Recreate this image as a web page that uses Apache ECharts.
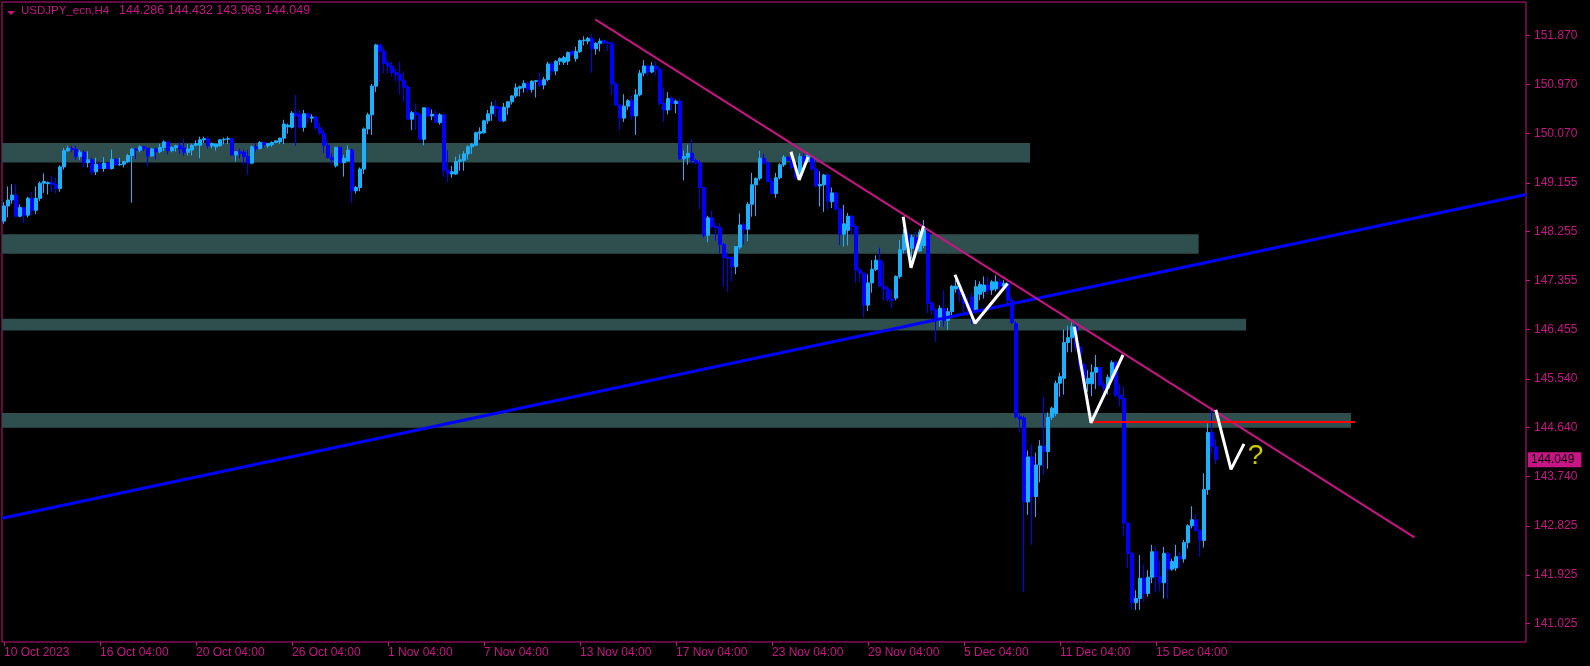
<!DOCTYPE html>
<html><head><meta charset="utf-8">
<script src="https://cdn.jsdelivr.net/npm/echarts@6/dist/echarts.min.js"></script>
<style>html,body{margin:0;padding:0;background:#000}#c{width:1590px;height:666px}</style>
</head><body><div id="c"></div>
<script>
// ---- data ----
const SYMBOL = 'USDJPY_ecn,H4';
const TICK_LABELS = ['10 Oct 2023','16 Oct 04:00','20 Oct 04:00','26 Oct 04:00','1 Nov 04:00','7 Nov 04:00','13 Nov 04:00','17 Nov 04:00','23 Nov 04:00','29 Nov 04:00','5 Dec 04:00','11 Dec 04:00','15 Dec 04:00'];
const Y_TICKS = [151.870,150.970,150.070,149.155,148.255,147.355,146.455,145.540,144.640,143.740,142.825,141.925,141.025];
const OPEN = [
148.45,148.73,148.84,148.93,148.54,148.70,148.56,148.87,148.65,148.87,
149.15,149.14,149.16,149.13,149.05,149.45,149.75,149.79,149.77,149.64,
149.72,149.53,149.58,149.36,149.50,149.42,149.52,149.42,149.59,149.49,
149.50,149.55,149.66,149.78,149.76,149.82,149.79,149.65,149.78,149.73,
149.81,149.91,149.75,149.81,149.84,149.80,149.72,149.76,149.85,149.85,
149.95,149.97,149.84,149.82,149.84,149.95,149.96,149.97,149.67,149.73,
149.72,149.64,149.52,149.82,149.79,149.90,149.84,149.86,149.90,149.91,
149.98,150.19,150.18,150.44,150.41,150.18,150.43,150.35,150.37,150.17,
150.07,149.85,149.62,149.47,149.81,149.53,149.56,149.76,149.01,149.07,
149.41,150.15,150.41,150.94,151.70,151.58,151.36,151.31,151.19,151.15,
151.05,150.92,150.33,150.45,150.41,149.96,150.54,150.39,150.42,150.27,
150.41,149.39,149.32,149.32,149.55,149.57,149.69,149.82,149.85,150.07,
150.08,150.30,150.43,150.57,150.55,150.30,150.55,150.65,150.76,150.90,
150.91,150.99,150.88,151.03,151.04,150.96,151.06,151.35,151.22,151.40,
151.38,151.40,151.58,151.45,151.58,151.78,151.77,151.82,151.63,151.73,
151.78,151.74,151.73,150.98,150.59,150.35,150.57,150.67,150.39,150.78,
151.18,151.31,151.20,151.31,151.25,150.62,150.50,150.71,150.62,150.66,
149.60,149.63,149.70,149.57,149.52,149.07,148.19,148.51,148.35,148.33,
148.02,147.78,147.78,147.61,147.97,148.38,148.30,148.76,149.12,149.24,
149.61,149.52,149.18,148.96,149.25,149.49,149.63,149.57,149.44,149.30,
149.64,149.55,149.60,149.41,149.10,149.12,149.30,148.81,148.97,148.67,
148.21,148.28,148.54,148.35,147.55,147.49,146.90,147.31,147.56,147.73,
147.25,147.20,147.01,147.03,147.43,147.92,148.20,147.95,148.15,147.90,
148.00,148.22,146.93,146.81,146.62,146.84,146.62,146.78,147.20,147.25,
147.10,146.93,147.05,146.81,147.10,147.15,147.27,147.18,147.20,147.33,
147.25,147.30,146.99,146.56,144.84,144.82,143.27,144.10,143.37,143.95,
144.30,144.20,144.83,144.90,145.46,145.55,146.21,146.30,146.50,146.13,
145.80,145.45,145.45,145.66,145.75,145.43,145.37,145.57,145.84,145.24,
145.18,142.88,142.32,141.41,141.49,141.86,141.58,141.88,142.35,141.89,
141.78,142.32,142.03,142.05,142.26,142.22,142.52,142.83,142.94,142.74,
142.56,143.50,144.55,144.286];
const CLOSE = [
148.73,148.84,148.93,148.54,148.70,148.56,148.87,148.65,148.87,149.15,
149.18,149.16,149.13,149.05,149.45,149.75,149.79,149.77,149.64,149.72,
149.53,149.58,149.36,149.50,149.42,149.52,149.42,149.59,149.49,149.50,
149.55,149.66,149.78,149.76,149.82,149.79,149.65,149.78,149.73,149.81,
149.91,149.75,149.81,149.84,149.78,149.72,149.78,149.85,149.88,149.95,
149.97,149.84,149.88,149.87,149.95,149.96,149.97,149.67,149.73,149.70,
149.64,149.52,149.82,149.79,149.90,149.86,149.88,149.90,149.93,149.98,
150.24,150.22,150.44,150.39,150.18,150.43,150.36,150.37,150.17,150.07,
149.85,149.62,149.58,149.81,149.53,149.61,149.76,149.01,149.07,149.41,
150.15,150.41,150.94,151.70,151.58,151.36,151.31,151.19,151.15,151.05,
150.92,150.33,150.45,150.41,149.96,150.54,150.39,150.42,150.27,150.41,
149.39,149.32,149.36,149.55,149.58,149.69,149.82,149.87,150.08,150.10,
150.30,150.43,150.57,150.53,150.30,150.55,150.65,150.76,150.91,150.93,
150.99,150.88,151.03,151.04,150.96,151.06,151.35,151.22,151.40,151.45,
151.47,151.56,151.52,151.58,151.78,151.79,151.82,151.63,151.73,151.77,
151.74,151.73,150.98,150.59,150.35,150.57,150.67,150.39,150.78,151.18,
151.31,151.20,151.31,151.25,150.62,150.50,150.71,150.62,150.66,149.60,
149.64,149.70,149.57,149.52,149.07,148.19,148.51,148.35,148.33,148.02,
147.78,147.76,147.61,147.98,148.38,148.30,148.76,149.12,149.24,149.61,
149.52,149.18,148.96,149.25,149.49,149.63,149.57,149.44,149.26,149.64,
149.55,149.67,149.41,149.10,149.13,149.30,148.81,148.97,148.67,148.21,
148.40,148.54,148.35,147.55,147.49,146.90,147.31,147.56,147.73,147.25,
147.20,147.01,146.99,147.43,147.92,148.20,147.95,148.15,147.90,148.25,
148.30,146.93,146.81,146.62,146.84,146.62,146.78,147.25,147.25,147.10,
146.93,146.85,146.81,147.24,147.28,147.27,147.18,147.33,147.33,147.25,
147.30,146.99,146.58,144.84,144.80,143.27,144.10,143.37,143.95,144.30,
144.20,144.83,145.00,145.46,145.58,146.21,146.30,146.50,146.13,145.80,
145.45,145.55,145.66,145.75,145.43,145.37,145.57,145.84,145.24,145.18,
142.88,142.32,141.41,141.49,141.86,141.58,141.88,142.35,141.89,141.78,
142.32,142.03,142.17,142.26,142.22,142.52,142.83,142.94,142.74,142.56,
143.50,144.55,144.29,144.049];
const HIGH = [
148.80,149.09,149.13,149.13,148.76,148.72,148.90,148.99,149.09,149.18,
149.33,149.18,149.29,149.25,149.48,149.80,149.84,149.84,149.84,149.76,
149.76,149.74,149.62,149.62,149.55,149.63,149.55,149.77,149.61,149.62,
149.56,149.69,149.80,149.80,149.85,149.84,149.81,149.80,149.80,149.88,
149.94,149.93,149.83,149.86,149.91,149.97,149.87,149.88,149.94,150.01,
150.01,150.01,149.90,149.88,149.96,149.99,150.01,149.98,149.74,149.79,
149.77,149.76,149.85,149.89,149.93,149.92,149.88,149.92,149.94,149.99,
150.32,150.25,150.48,150.78,150.51,150.50,150.44,150.42,150.40,150.26,
150.14,149.93,149.70,149.82,149.82,149.67,149.85,149.79,149.10,149.44,
150.18,150.45,150.98,151.72,151.72,151.66,151.43,151.39,151.26,151.39,
151.22,150.96,150.48,150.62,150.45,150.55,150.55,150.51,150.50,150.44,
150.42,149.76,149.47,149.64,149.68,149.74,149.85,149.89,150.10,150.18,
150.32,150.50,150.65,150.69,150.56,150.63,150.67,150.77,150.99,150.95,
151.05,151.02,151.05,151.05,151.19,151.11,151.39,151.39,151.42,151.47,
151.50,151.58,151.60,151.67,151.80,151.86,151.85,151.90,151.75,151.82,
151.80,151.77,151.77,151.02,150.61,150.79,150.70,150.76,150.88,151.24,
151.42,151.33,151.38,151.40,151.29,150.92,150.83,150.76,150.69,150.71,
149.75,149.86,149.96,149.60,149.57,149.08,148.55,148.65,148.42,148.41,
148.05,147.87,147.80,147.99,148.59,148.43,148.80,149.34,149.25,149.75,
149.69,149.55,149.25,149.34,149.52,149.67,149.64,149.70,149.48,149.70,
149.70,149.72,149.62,149.57,149.37,149.32,149.34,149.07,148.98,148.70,
148.75,148.60,148.56,148.40,147.59,147.50,147.47,147.73,147.82,147.96,
147.70,147.26,147.17,147.45,148.10,148.30,148.30,148.20,148.25,148.30,
148.47,148.33,146.98,146.85,146.90,147.18,146.85,147.27,147.43,147.30,
147.15,147.05,147.13,147.36,147.34,147.43,147.42,147.36,147.45,147.40,
147.36,147.38,147.05,146.60,144.90,144.86,144.22,144.34,144.18,144.41,
145.21,144.92,145.03,145.51,145.65,146.45,146.52,146.58,146.55,146.20,
145.85,145.70,145.81,145.98,145.75,145.50,145.62,145.88,145.88,145.45,
145.40,142.90,142.35,141.64,142.29,142.12,142.01,142.48,142.44,142.18,
142.44,142.35,142.22,142.48,142.35,142.57,142.86,143.19,143.03,142.76,
143.80,144.72,144.97,144.432];
const LOW = [
148.40,148.52,148.77,148.52,148.52,148.42,148.52,148.56,148.58,148.82,
148.97,148.94,148.99,148.96,148.99,149.40,149.73,149.72,149.58,149.58,
149.44,149.44,149.30,149.30,149.40,149.36,149.40,149.40,149.47,149.47,
149.44,149.52,148.79,149.59,149.72,149.74,149.46,149.64,149.59,149.70,
149.74,149.68,149.72,149.73,149.69,149.66,149.66,149.66,149.83,149.61,
149.89,149.79,149.79,149.75,149.83,149.87,149.87,149.66,149.55,149.61,
149.49,149.30,149.50,149.73,149.77,149.80,149.80,149.82,149.89,149.87,
149.87,150.06,150.16,149.84,150.16,150.10,150.25,150.27,150.14,150.04,
149.71,149.61,149.49,149.44,149.52,149.27,149.55,148.78,148.96,149.00,
149.32,150.05,150.04,150.83,151.02,151.18,151.17,151.12,151.03,150.79,
150.65,150.31,150.13,150.13,149.94,149.85,150.37,150.31,150.26,150.23,
149.27,149.17,149.25,149.30,149.38,149.38,149.59,149.69,149.83,149.95,
150.06,150.24,150.30,150.37,150.28,150.28,150.41,150.60,150.72,150.75,
150.82,150.82,150.82,150.73,150.92,150.88,151.03,151.14,151.14,151.33,
151.33,151.33,151.49,151.39,151.55,151.69,151.71,151.19,151.52,151.58,
151.70,151.58,150.78,150.57,150.13,150.28,150.50,150.32,150.04,150.75,
151.12,151.13,151.18,151.13,150.59,150.28,150.42,150.48,150.44,149.58,
149.20,149.49,149.51,149.50,148.67,148.15,148.06,148.31,148.09,147.86,
147.24,147.15,147.34,147.47,147.93,148.02,148.08,148.53,148.54,149.20,
149.50,149.16,148.95,148.88,149.22,149.45,149.55,149.40,149.22,149.25,
149.50,149.52,149.38,149.07,148.72,148.62,148.66,148.69,148.64,148.01,
147.98,148.00,148.20,147.31,147.32,146.68,146.79,147.13,147.53,147.23,
146.99,146.96,146.84,146.99,147.39,147.85,147.80,147.75,147.75,147.88,
147.95,146.75,146.72,146.22,146.50,146.50,146.45,146.66,147.13,146.95,
146.70,146.70,146.55,146.75,146.99,147.02,147.10,147.09,147.15,147.15,
147.20,146.90,146.55,144.81,144.55,141.61,143.03,142.48,142.99,143.63,
143.77,143.88,144.78,144.85,145.21,145.25,146.03,146.03,146.05,145.70,
145.33,145.30,145.22,145.35,145.40,145.20,145.25,145.52,145.20,145.03,
142.63,142.05,141.29,141.28,141.28,141.42,141.52,141.77,141.60,141.62,
141.49,141.48,142.00,142.00,142.05,142.15,142.41,142.78,142.72,142.26,
142.43,143.40,144.15,143.968];

// zones (bar index where each zone ends, top price, bottom price)
const ZONE_END = [256.5, 298.65, 310.5, 336.75];
const ZONE_TOP = [149.89, 148.21, 146.65, 144.91];
const ZONE_BOTTOM = [149.53, 147.85, 146.43, 144.64];
// drawn objects, as [bar index, price]
const DOWN_TREND = [[147.8, 152.17], [352.6, 142.615]];
const UP_TREND = [[-0.5, 142.97], [380.5, 148.94]];
const RED_LEVEL = [[271.75, 144.744], [337.75, 144.744]];
const V_MARKS = [
  [[196.75,149.73],[198.8,149.21],[201.0,149.63]],
  [[224.8,148.53],[226.75,147.59],[229.9,148.36]],
  [[237.75,147.46],[242.75,146.565],[250.9,147.30]],
  [[267.6,146.50],[271.75,144.73],[279.75,145.98]],
  [[302.95,144.97],[306.75,143.87],[310.0,144.34]]
];
const QUESTION = [312.9, 144.12];

// ---- layout / style ----
const N_SLOTS = 381;
const Y_MIN = 140.686, Y_MAX = 152.492;
const MAG = '#C71585', BULL = '#1cb0ff', BEAR = '#0000ff', ZONE = '#2F4F4F';
const FONT = '"Liberation Sans", Arial, sans-serif';

const chart = echarts.init(document.getElementById('c'), null, {renderer: 'canvas', width: 1590, height: 666});
const candles = OPEN.map((o, i) => [o, CLOSE[i], LOW[i], HIGH[i]]);
const cats = Array.from({length: N_SLOTS}, (_, i) => String(i));
const showTick = (idx) => idx % 24 === 0 && idx / 24 < TICK_LABELS.length;
const last = OPEN.length - 1;
const zones = ZONE_END.map((e, i) => [-0.5, e, ZONE_TOP[i], ZONE_BOTTOM[i]]);

function lineSeries(pts, color, width, z) {
  return {type: 'line', xAxisIndex: 1, yAxisIndex: 0, data: pts, symbol: 'none', silent: true,
    lineStyle: {color: color, width: width}, z: z, clip: true, animation: false};
}

const series = [
  {type: 'custom', xAxisIndex: 1, yAxisIndex: 0, silent: true, z: 1, data: zones,
   encode: {x: [0, 1], y: [2, 3]},
   renderItem: (params, api) => {
     const a = api.coord([api.value(0), api.value(2)]);
     const b = api.coord([api.value(1), api.value(3)]);
     return {type: 'rect', shape: {x: a[0], y: a[1], width: b[0] - a[0], height: b[1] - a[1]}, style: {fill: ZONE}};
   }},
  {type: 'candlestick', xAxisIndex: 0, yAxisIndex: 0, data: candles, barWidth: 3, z: 2,
   itemStyle: {color: BULL, color0: BEAR, borderColor: BULL, borderColor0: BEAR, borderWidth: 1}},
  // last-price tag on the right scale
  {type: 'line', xAxisIndex: 1, yAxisIndex: 0, data: [], silent: true, z: 8,
   markLine: {symbol: 'none', silent: true, animation: false,
     lineStyle: {color: 'rgba(0,0,0,0)', width: 0},
     label: {show: true, position: 'end', distance: 2, formatter: CLOSE[last].toFixed(3),
       backgroundColor: MAG, color: '#000', padding: [2, 7, 1, 3], fontSize: 12, fontFamily: FONT},
     data: [{yAxis: CLOSE[last]}]}},
  lineSeries(UP_TREND, '#0000ff', 3, 4),
  lineSeries(DOWN_TREND, MAG, 2, 5),
  lineSeries(RED_LEVEL, '#ff0000', 2, 5),
  ...V_MARKS.map(v => lineSeries(v, '#ffffff', 3, 6)),
  {type: 'scatter', xAxisIndex: 1, yAxisIndex: 0, data: [QUESTION], symbolSize: 1, silent: true, z: 7,
   itemStyle: {color: 'rgba(0,0,0,0)'},
   label: {show: true, position: 'inside', formatter: '?', color: '#ffff00', fontSize: 28, fontFamily: FONT}}
];

chart.setOption({
  backgroundColor: '#000',
  animation: false,
  grid: {left: 2, top: 2, width: 1524, height: 640, show: true, borderColor: MAG, borderWidth: 1, backgroundColor: 'transparent'},
  xAxis: [
    {type: 'category', data: cats, boundaryGap: true, gridIndex: 0, position: 'bottom',
     axisLine: {show: false, onZero: false},
     axisTick: {show: true, alignWithLabel: true, interval: showTick, length: 4, lineStyle: {color: MAG}},
     axisLabel: {interval: showTick, formatter: (v, idx) => TICK_LABELS[Math.round(Number(v) / 24)] || '',
       align: 'left', margin: 5, color: MAG, fontSize: 12, fontFamily: FONT},
     splitLine: {show: false}},
    {type: 'value', gridIndex: 0, min: -0.5, max: N_SLOTS - 0.5, show: false, axisLine: {onZero: false}}
  ],
  yAxis: {type: 'value', position: 'right', min: Y_MIN, max: Y_MAX,
    axisLine: {show: false, onZero: false},
    axisTick: {show: true, length: 4, lineStyle: {color: MAG}, customValues: Y_TICKS},
    axisLabel: {customValues: Y_TICKS, formatter: v => v.toFixed(3), color: MAG, margin: 8, fontSize: 12, fontFamily: FONT},
    splitLine: {show: false}},
  graphic: [
    {type: 'polygon', shape: {points: [[7, 11], [15, 11], [11, 15]]}, style: {fill: MAG}, silent: true},
    {type: 'text', left: 21, top: 5, silent: true, style: {text: SYMBOL, fill: MAG, font: '11.5px ' + FONT}},
    {type: 'text', left: 119, top: 4, silent: true, style: {text: [OPEN[last], HIGH[last], LOW[last], CLOSE[last]].map(v => v.toFixed(3)).join(' '), fill: MAG, font: '12.5px ' + FONT}}
  ],
  series: series
});
</script></body></html>
